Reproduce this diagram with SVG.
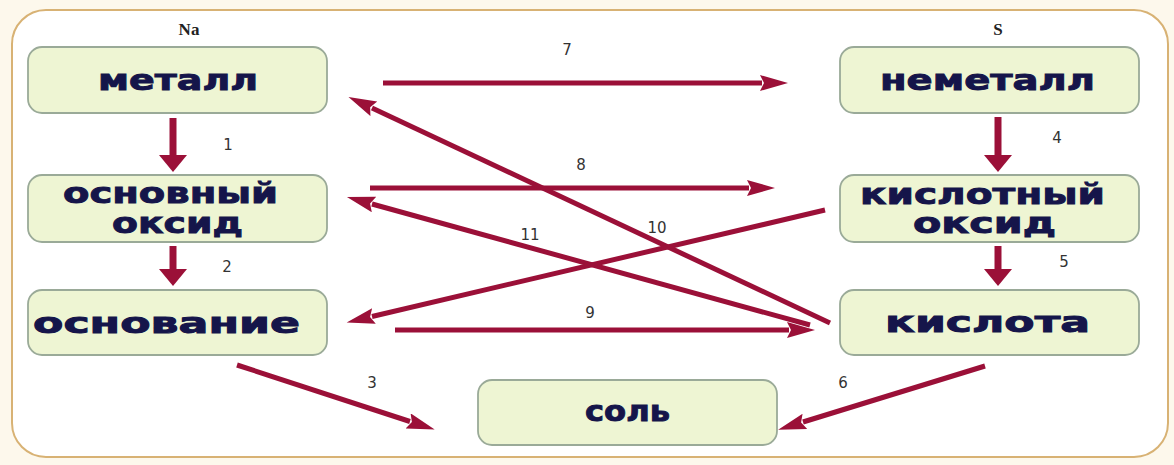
<svg xmlns="http://www.w3.org/2000/svg" width="1174" height="465" viewBox="0 0 1174 465">
<style>
.node{fill:#eef5d3;stroke:#9aaa98;stroke-width:1.8}
.t{font-family:"DejaVu Sans",Verdana,sans-serif;font-weight:bold;font-size:28px;fill:#15154a;stroke:#15154a;stroke-width:0.9;text-anchor:middle}
.n{font-family:"DejaVu Sans",sans-serif;font-size:15px;fill:#333;text-anchor:middle}
.el{font-family:"Liberation Serif",serif;font-weight:bold;font-size:17px;fill:#222;text-anchor:middle}
.a{stroke:#9b1038;stroke-width:5;fill:none;marker-end:url(#h)}
.v{stroke:#9b1038;stroke-width:7;fill:none;marker-end:url(#hv)}
</style>
<defs>
<marker id="h" markerUnits="userSpaceOnUse" markerWidth="30" markerHeight="18" refX="2" refY="8" orient="auto">
<path d="M0,0 L28,8 L0,16 L4,8 Z" fill="#9b1038"/>
</marker>
<marker id="hv" markerUnits="userSpaceOnUse" markerWidth="20" markerHeight="30" refX="2" refY="14" orient="auto">
<path d="M0,0 L17,14 L0,28 Z" fill="#9b1038"/>
</marker>
</defs>
<rect x="0" y="0" width="1174" height="465" fill="#fdf8ec"/>
<rect x="12" y="10" width="1156" height="447" rx="34" ry="34" fill="#ffffff" stroke="#d8b274" stroke-width="2"/>
<text class="el" x="189" y="35">Na</text>
<text class="el" x="998" y="35">S</text>
<g id="connectors">
<line class="v" x1="173" y1="118" x2="173" y2="157"/>
<line class="v" x1="173" y1="246" x2="173" y2="271"/>
<line class="v" x1="998" y1="117" x2="998" y2="157"/>
<line class="v" x1="998" y1="246" x2="998" y2="271"/>
<line class="a" x1="383" y1="83" x2="762" y2="83"/>
<line class="a" x1="370" y1="188" x2="749" y2="188"/>
<line class="a" x1="395" y1="330" x2="789" y2="330"/>
<line class="a" x1="830" y1="323" x2="372" y2="108"/>
<line class="a" x1="810" y1="325" x2="372" y2="204"/>
<line class="a" x1="825" y1="210" x2="372" y2="316.5"/>
<line class="a" x1="237" y1="365" x2="410" y2="421.5"/>
<line class="a" x1="985" y1="366" x2="803" y2="422"/>
<text class="n" x="228" y="150">1</text>
<text class="n" x="227" y="272">2</text>
<text class="n" x="372" y="388">3</text>
<text class="n" x="1057" y="143">4</text>
<text class="n" x="1064" y="267">5</text>
<text class="n" x="843" y="388">6</text>
<text class="n" x="567" y="55">7</text>
<text class="n" x="581" y="170">8</text>
<text class="n" x="590" y="318">9</text>
<text class="n" x="657" y="233">10</text>
<text class="n" x="530" y="240">11</text>
</g>
<g id="metal">
<rect class="node" x="28" y="47" width="299" height="66" rx="14"/>
<text class="t" x="178" y="90" textLength="160" lengthAdjust="spacingAndGlyphs">металл</text>
</g>
<g id="nonmetal">
<rect class="node" x="840" y="47" width="299" height="66" rx="14"/>
<text class="t" x="987.5" y="90" textLength="215" lengthAdjust="spacingAndGlyphs">неметалл</text>
</g>
<g id="basic-oxide">
<rect class="node" x="28" y="175" width="299" height="67" rx="14"/>
<text class="t" x="170.5" y="203" textLength="215" lengthAdjust="spacingAndGlyphs">основный</text>
<text class="t" x="177.5" y="233" textLength="131" lengthAdjust="spacingAndGlyphs">оксид</text>
</g>
<g id="acid-oxide">
<rect class="node" x="840" y="175" width="299" height="67" rx="14"/>
<text class="t" x="982.5" y="204" textLength="245" lengthAdjust="spacingAndGlyphs">кислотный</text>
<text class="t" x="984.5" y="233" textLength="143" lengthAdjust="spacingAndGlyphs">оксид</text>
</g>
<g id="base">
<rect class="node" x="28" y="290" width="299" height="65" rx="14"/>
<text class="t" x="166.5" y="333" textLength="267" lengthAdjust="spacingAndGlyphs">основание</text>
</g>
<g id="acid">
<rect class="node" x="840" y="290" width="299" height="65" rx="14"/>
<text class="t" x="987.5" y="332" textLength="205" lengthAdjust="spacingAndGlyphs">кислота</text>
</g>
<g id="salt">
<rect class="node" x="478" y="380" width="299" height="65" rx="14"/>
<text class="t" x="627.5" y="421" textLength="85" lengthAdjust="spacingAndGlyphs">соль</text>
</g>
</svg>
